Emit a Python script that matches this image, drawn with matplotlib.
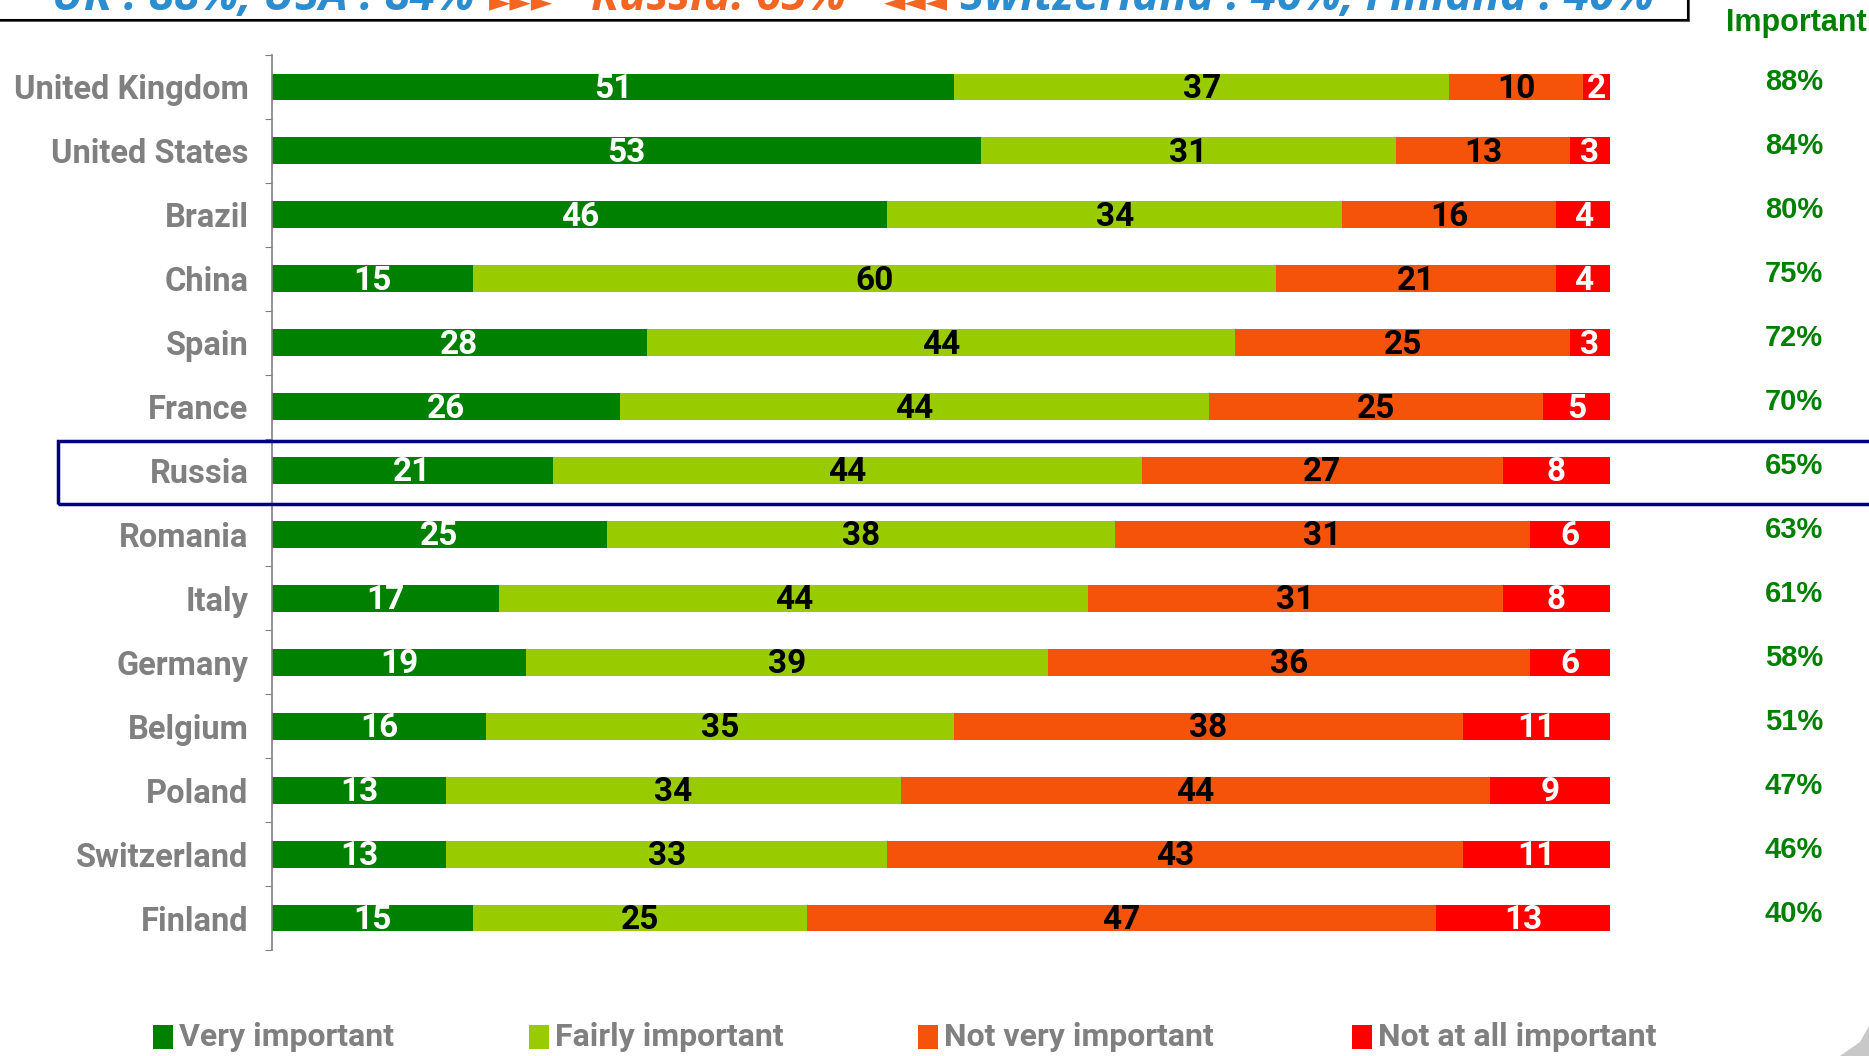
import numpy as np
import matplotlib
matplotlib.use("Agg")
import matplotlib.pyplot as plt
from matplotlib.patches import Rectangle, Polygon

# survey data: share of answers per country (%)
countries = ["United Kingdom", "United States", "Brazil", "China", "Spain", "France",
             "Russia", "Romania", "Italy", "Germany", "Belgium", "Poland",
             "Switzerland", "Finland"]
very = [51, 53, 46, 15, 28, 26, 21, 25, 17, 19, 16, 13, 13, 15]
fairly = [37, 31, 34, 60, 44, 44, 44, 38, 44, 39, 35, 34, 33, 25]
not_very = [10, 13, 16, 21, 25, 25, 27, 31, 31, 36, 38, 44, 43, 47]
not_at_all = [2, 3, 4, 4, 3, 5, 8, 6, 8, 6, 11, 9, 11, 13]
important = [88, 84, 80, 75, 72, 70, 65, 63, 61, 58, 51, 47, 46, 40]

series_names = ["Very important", "Fairly important", "Not very important", "Not at all important"]
colors = ["#008000", "#99CC00", "#F5520A", "#FF0000"]
text_colors = ["white", "black", "black", "white"]

W, H = 1869, 1056
narrow = ["DejaVu Sans Condensed", "Roboto", "DejaVu Sans"]
gray = "#808080"

fig = plt.figure(figsize=(W / 100, H / 100), dpi=100)
ax = fig.add_axes([272 / W, 1 - 950 / H, (1610 - 272) / W, (950 - 55) / H])

y = np.arange(len(countries))
left = np.zeros(len(countries))
for vals, col, tcol in zip([very, fairly, not_very, not_at_all], colors, text_colors):
    vals = np.array(vals)
    ax.barh(y, vals, left=left, height=0.42, color=col, edgecolor="none")
    for yi, l, v in zip(y, left, vals):
        ax.text(l + v / 2, yi + 0.03, str(v), ha="center", va="center", color=tcol,
                fontsize=24, fontweight="bold", family=narrow, stretch="condensed")
    left += vals

ax.set_xlim(0, 100)
ax.set_ylim(len(countries) - 0.5, -0.5)
ax.set_xticks([])
for s in ["top", "right", "bottom"]:
    ax.spines[s].set_visible(False)
ax.spines["left"].set_color(gray)
ax.spines["left"].set_linewidth(1.2)

# boundary ticks between rows, country names as minor tick labels
ax.set_yticks(np.arange(-0.5, len(countries), 1.0))
ax.set_yticklabels([])
ax.tick_params(axis="y", which="major", length=5, color=gray, direction="out")
ax.set_yticks(y, minor=True)
ax.set_yticklabels(countries, minor=True)
ax.tick_params(axis="y", which="minor", length=0, pad=17)
for lab in ax.get_yticklabels(minor=True):
    lab.set_fontsize(23.5)
    lab.set_fontweight("bold")
    lab.set_color(gray)
    lab.set_family(narrow)
    lab.set_stretch("condensed")

# "Important" totals column
trans = ax.get_yaxis_transform()
xcol = (1794 - 272) / (1610 - 272)
for yi, v in zip(y, important):
    ax.text(xcol, yi - 0.07, f"{v}%", transform=trans, ha="center", va="center",
            color="#008000", fontsize=21, fontweight="bold", family="Liberation Sans",
            clip_on=False)
fig.text(1796 / W, 1 - 23 / H, "Important", ha="center", va="center", color="#008000",
         fontsize=22, fontweight="bold", family="Liberation Sans")

# highlight box around Russia
fig.add_artist(Rectangle((58 / W, 1 - 504 / H), (1880 - 58) / W, 63 / H,
                         transform=fig.transFigure, fill=False, edgecolor="#000080",
                         linewidth=2.5, clip_on=False))

# headline box at the top
fig.add_artist(Rectangle((-10 / W, 1 - 22 / H), 1700 / W, 60 / H, transform=fig.transFigure,
                         facecolor="#5a5a5a", edgecolor="none", zorder=1))
fig.add_artist(Rectangle((-10 / W, 1 - 20 / H), 1698 / W, 60 / H, transform=fig.transFigure,
                         facecolor="white", edgecolor="black", linewidth=1.5, zorder=2))
head_kw = dict(fontweight="bold", style="italic", family=["Open Sans", "DejaVu Sans"],
               va="baseline", zorder=3)
base = 1 - 10 / H
fig.text(474 / W, base, "UK : 88%, USA : 84%", ha="right", color="#2B8CD0",
         fontsize=33, **head_kw)
fig.text(489 / W, base, "\u25ba\u25ba\u25ba", ha="left", color="#F26522", fontsize=20, **head_kw)
fig.text(718 / W, base, "Russia: 65%", ha="center", color="#F26522", fontsize=33, **head_kw)
fig.text(948 / W, base, "\u25c4\u25c4\u25c4", ha="right", color="#F26522", fontsize=20, **head_kw)
fig.text(960 / W, base, "Switzerland : 46%, Finland : 40%", ha="left", color="#2B8CD0",
         fontsize=33, **head_kw)

# legend along the bottom
leg_x = [153, 529, 918, 1352]
for x0, name, col in zip(leg_x, series_names, colors):
    fig.add_artist(Rectangle((x0 / W, 1 - 1049 / H), 20 / W, 24 / H,
                             transform=fig.transFigure, facecolor=col, edgecolor="none"))
    fig.text((x0 + 26) / W, 1 - 1037 / H, name, ha="left", va="center", color=gray,
             fontsize=23, fontweight="bold", family=narrow, stretch="condensed")

# grey swoosh in the corner
fig.add_artist(Polygon([(1840 / W, 0), (1, 0), (1, 30 / H), (1860 / W, 14 / H)],
                       closed=True, transform=fig.transFigure, facecolor="#c8c8c8",
                       edgecolor="none"))

fig.savefig("out.png", dpi=100)
